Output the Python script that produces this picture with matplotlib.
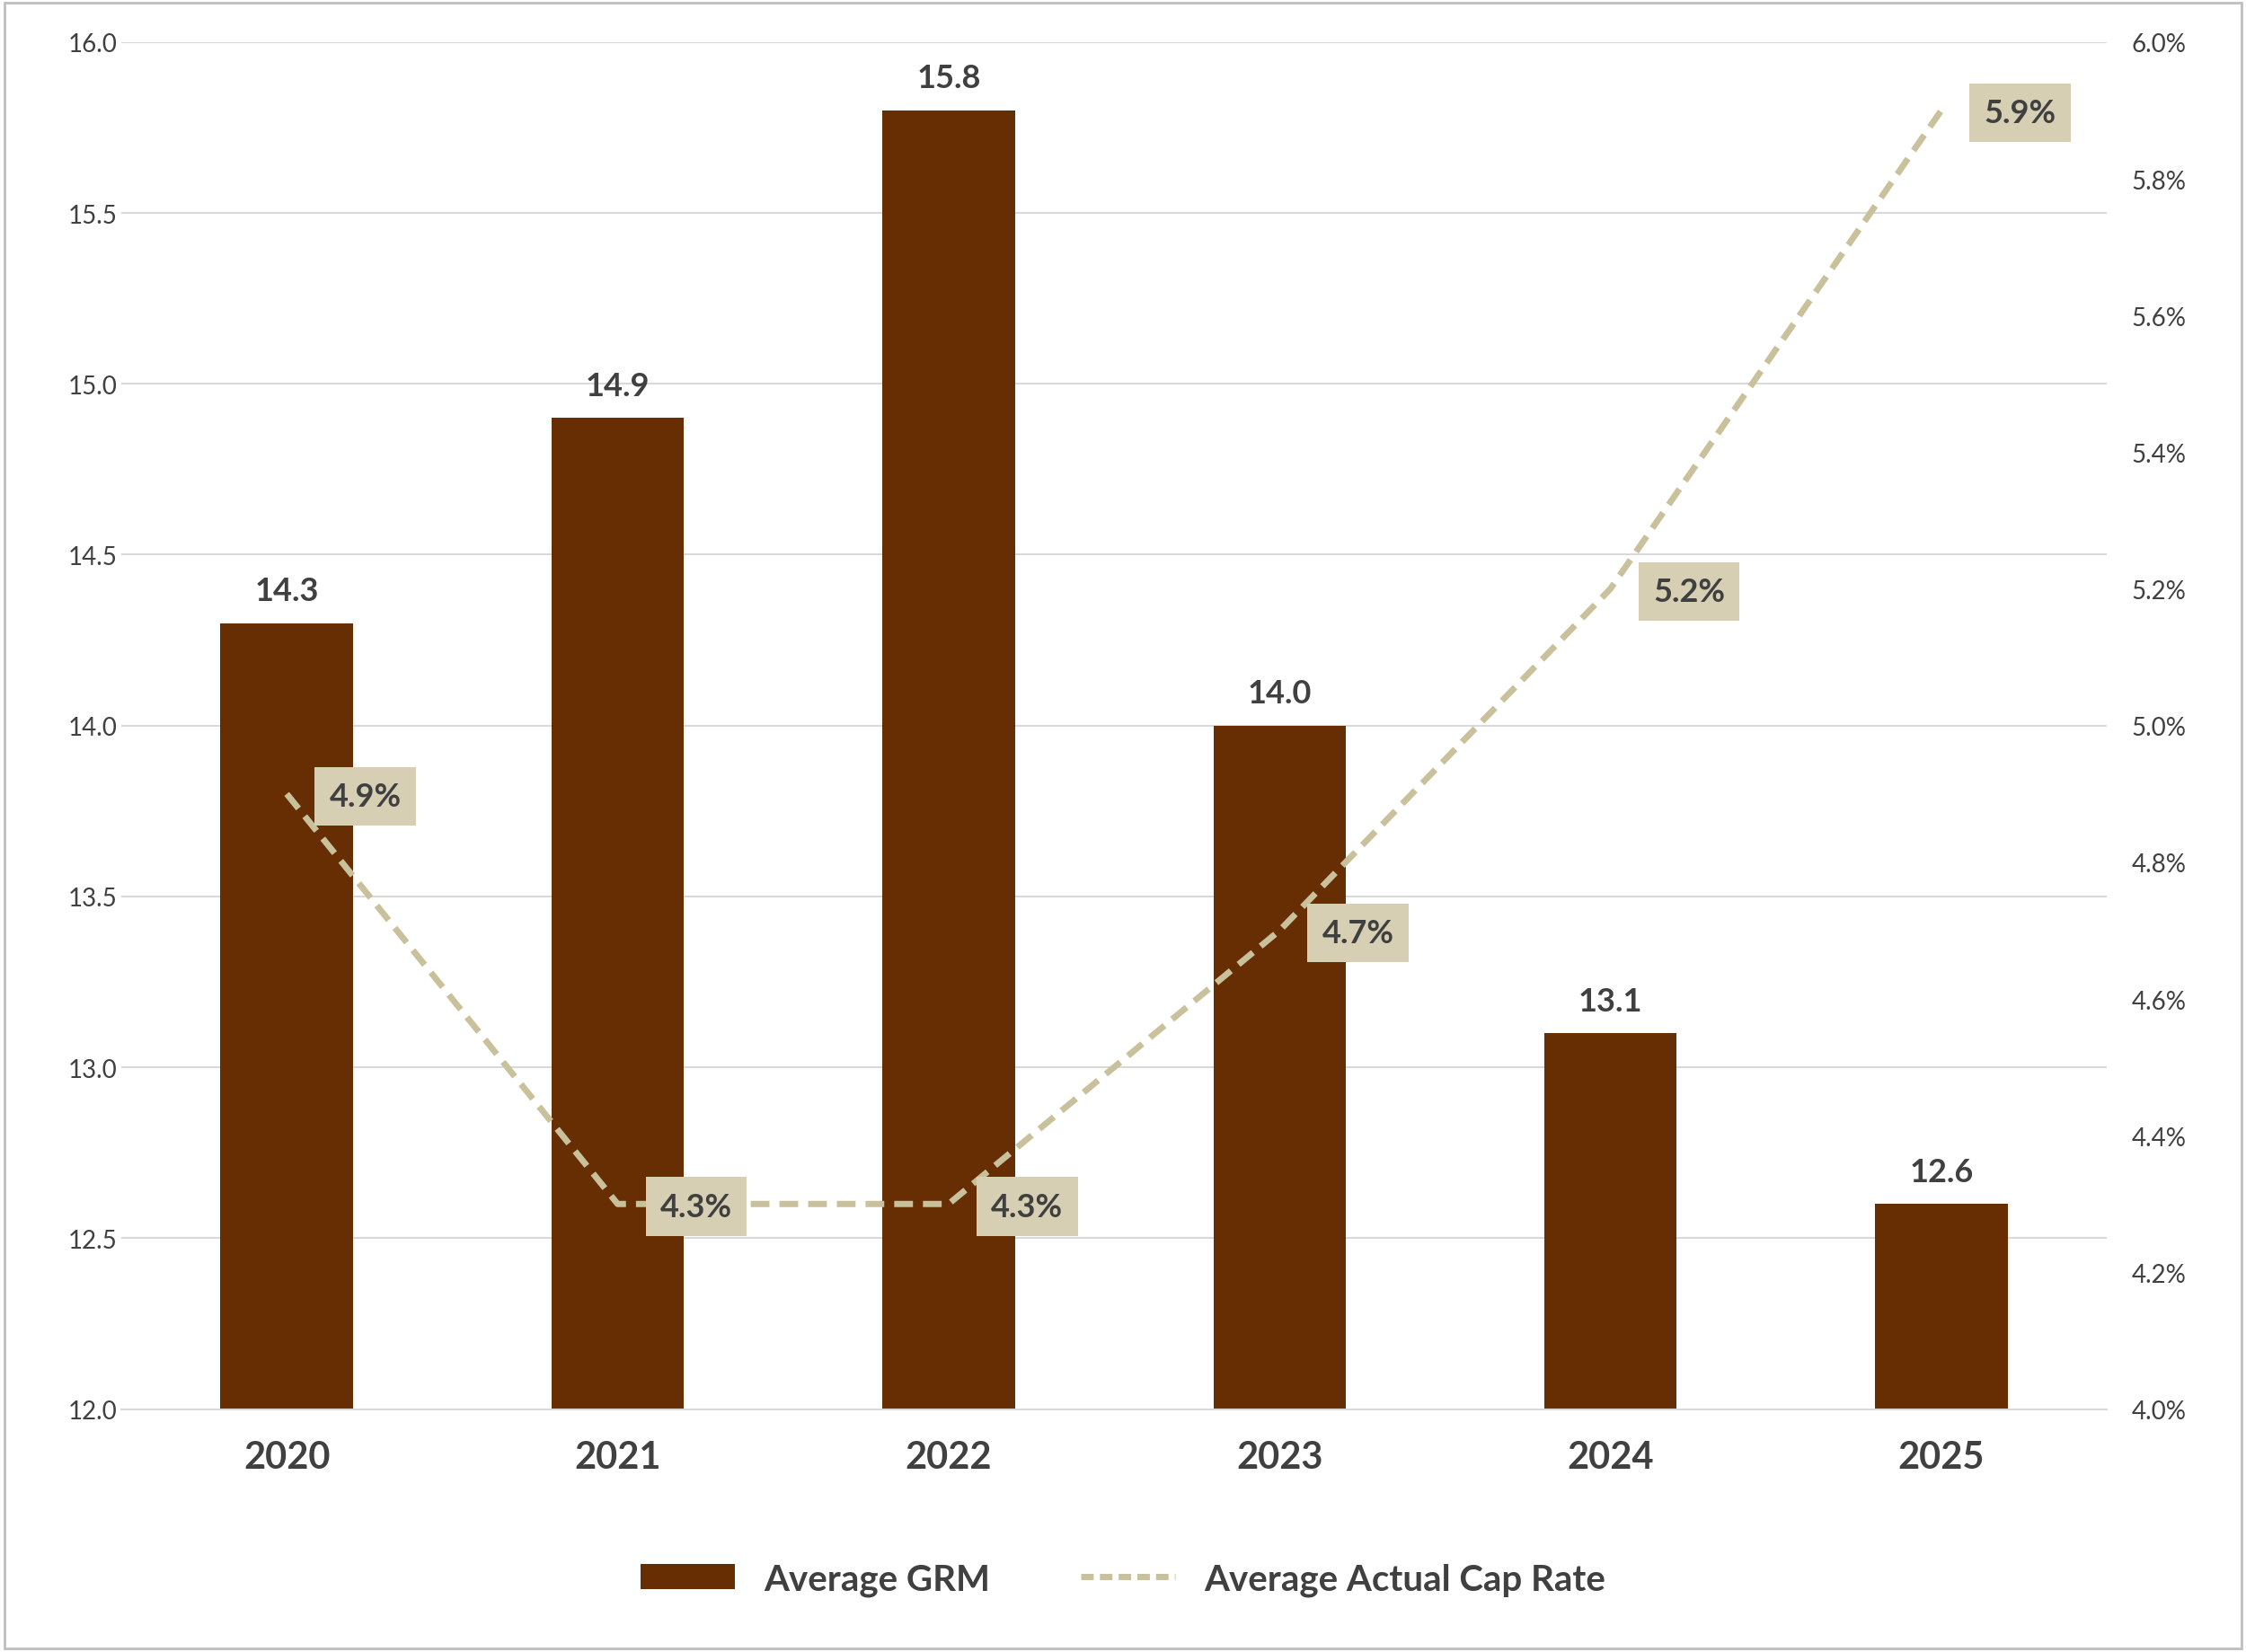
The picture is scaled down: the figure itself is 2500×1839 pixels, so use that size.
import matplotlib
matplotlib.use("Agg")
import matplotlib.pyplot as plt
from matplotlib.ticker import FuncFormatter

years = ["2020", "2021", "2022", "2023", "2024", "2025"]
grm = [14.3, 14.9, 15.8, 14.0, 13.1, 12.6]
cap_rate = [4.9, 4.3, 4.3, 4.7, 5.2, 5.9]

plt.rcParams['font.family'] = ['Lato', 'DejaVu Sans']
bar_color = '#662E02'
line_color = '#C9C09C'
box_color = '#D6CFB4'
text_color = '#404040'

fig = plt.figure(figsize=(25, 18.4), dpi=100)
fig.patches.append(plt.Rectangle((0.002, 0.002), 0.996, 0.996, transform=fig.transFigure,
                                 fill=False, edgecolor='#BFBFBF', linewidth=2))
ax = fig.add_axes([0.054, 0.147, 0.884, 0.827])
x = list(range(len(years)))
ax.bar(x, grm, width=0.4, color=bar_color, zorder=2)
ax.set_ylim(12.0, 16.0)
ax.set_yticks([12.0, 12.5, 13.0, 13.5, 14.0, 14.5, 15.0, 15.5, 16.0])
ax.yaxis.set_major_formatter(FuncFormatter(lambda v, p: f"{v:.1f}"))
ax.grid(axis='y', color='#D9D9D9', linewidth=1.5, zorder=0)
ax.set_xlim(-0.5, 5.5)
ax.set_xticks(x)
ax.set_xticklabels(years, fontsize=30, fontweight='bold', color=text_color)
ax.tick_params(axis='y', labelsize=20, labelcolor=text_color, length=0)
ax.tick_params(axis='x', length=0, pad=25)
for s in ['top', 'right', 'left']:
    ax.spines[s].set_visible(False)
ax.spines['bottom'].set_color('#D9D9D9')
ax.spines['bottom'].set_linewidth(1.5)
for xi, v in zip(x, grm):
    ax.annotate(f"{v:.1f}", (xi, v), xytext=(0, 14), textcoords='offset points',
                ha='center', va='bottom', fontsize=26, fontweight='bold', color=text_color)

ax2 = ax.twinx()
ax2.plot(x, cap_rate, color=line_color, linewidth=5, dashes=(3, 1.6), zorder=3)
ax2.set_ylim(4.0, 6.0)
ax2.set_yticks([4.0, 4.2, 4.4, 4.6, 4.8, 5.0, 5.2, 5.4, 5.6, 5.8, 6.0])
ax2.yaxis.set_major_formatter(FuncFormatter(lambda v, p: f"{v:.1f}%"))
ax2.tick_params(axis='y', labelsize=20, labelcolor=text_color, length=0, pad=20)
for s in ['top', 'right', 'left', 'bottom']:
    ax2.spines[s].set_visible(False)
for xi, v in zip(x, cap_rate):
    ax2.annotate(f"{v:.1f}%", (xi, v), xytext=(63, -2), textcoords='offset points',
                 ha='center', va='center', fontsize=26, fontweight='bold', color=text_color,
                 bbox=dict(boxstyle='square,pad=0.45', facecolor=box_color, edgecolor='none'))

from matplotlib.patches import Patch
from matplotlib.lines import Line2D
handles = [Patch(facecolor=bar_color, label='Average GRM'),
           Line2D([0], [0], color=line_color, linewidth=5, dashes=(2, 1), label='Average Actual Cap Rate')]
leg = fig.legend(handles=handles, loc='center', bbox_to_anchor=(0.5, 0.044), ncol=2, frameon=False,
                 prop={'size': 29, 'weight': 'bold'}, handlelength=2.6, columnspacing=2.5)
for t in leg.get_texts():
    t.set_color(text_color)

fig.savefig("out.png", dpi=100)
